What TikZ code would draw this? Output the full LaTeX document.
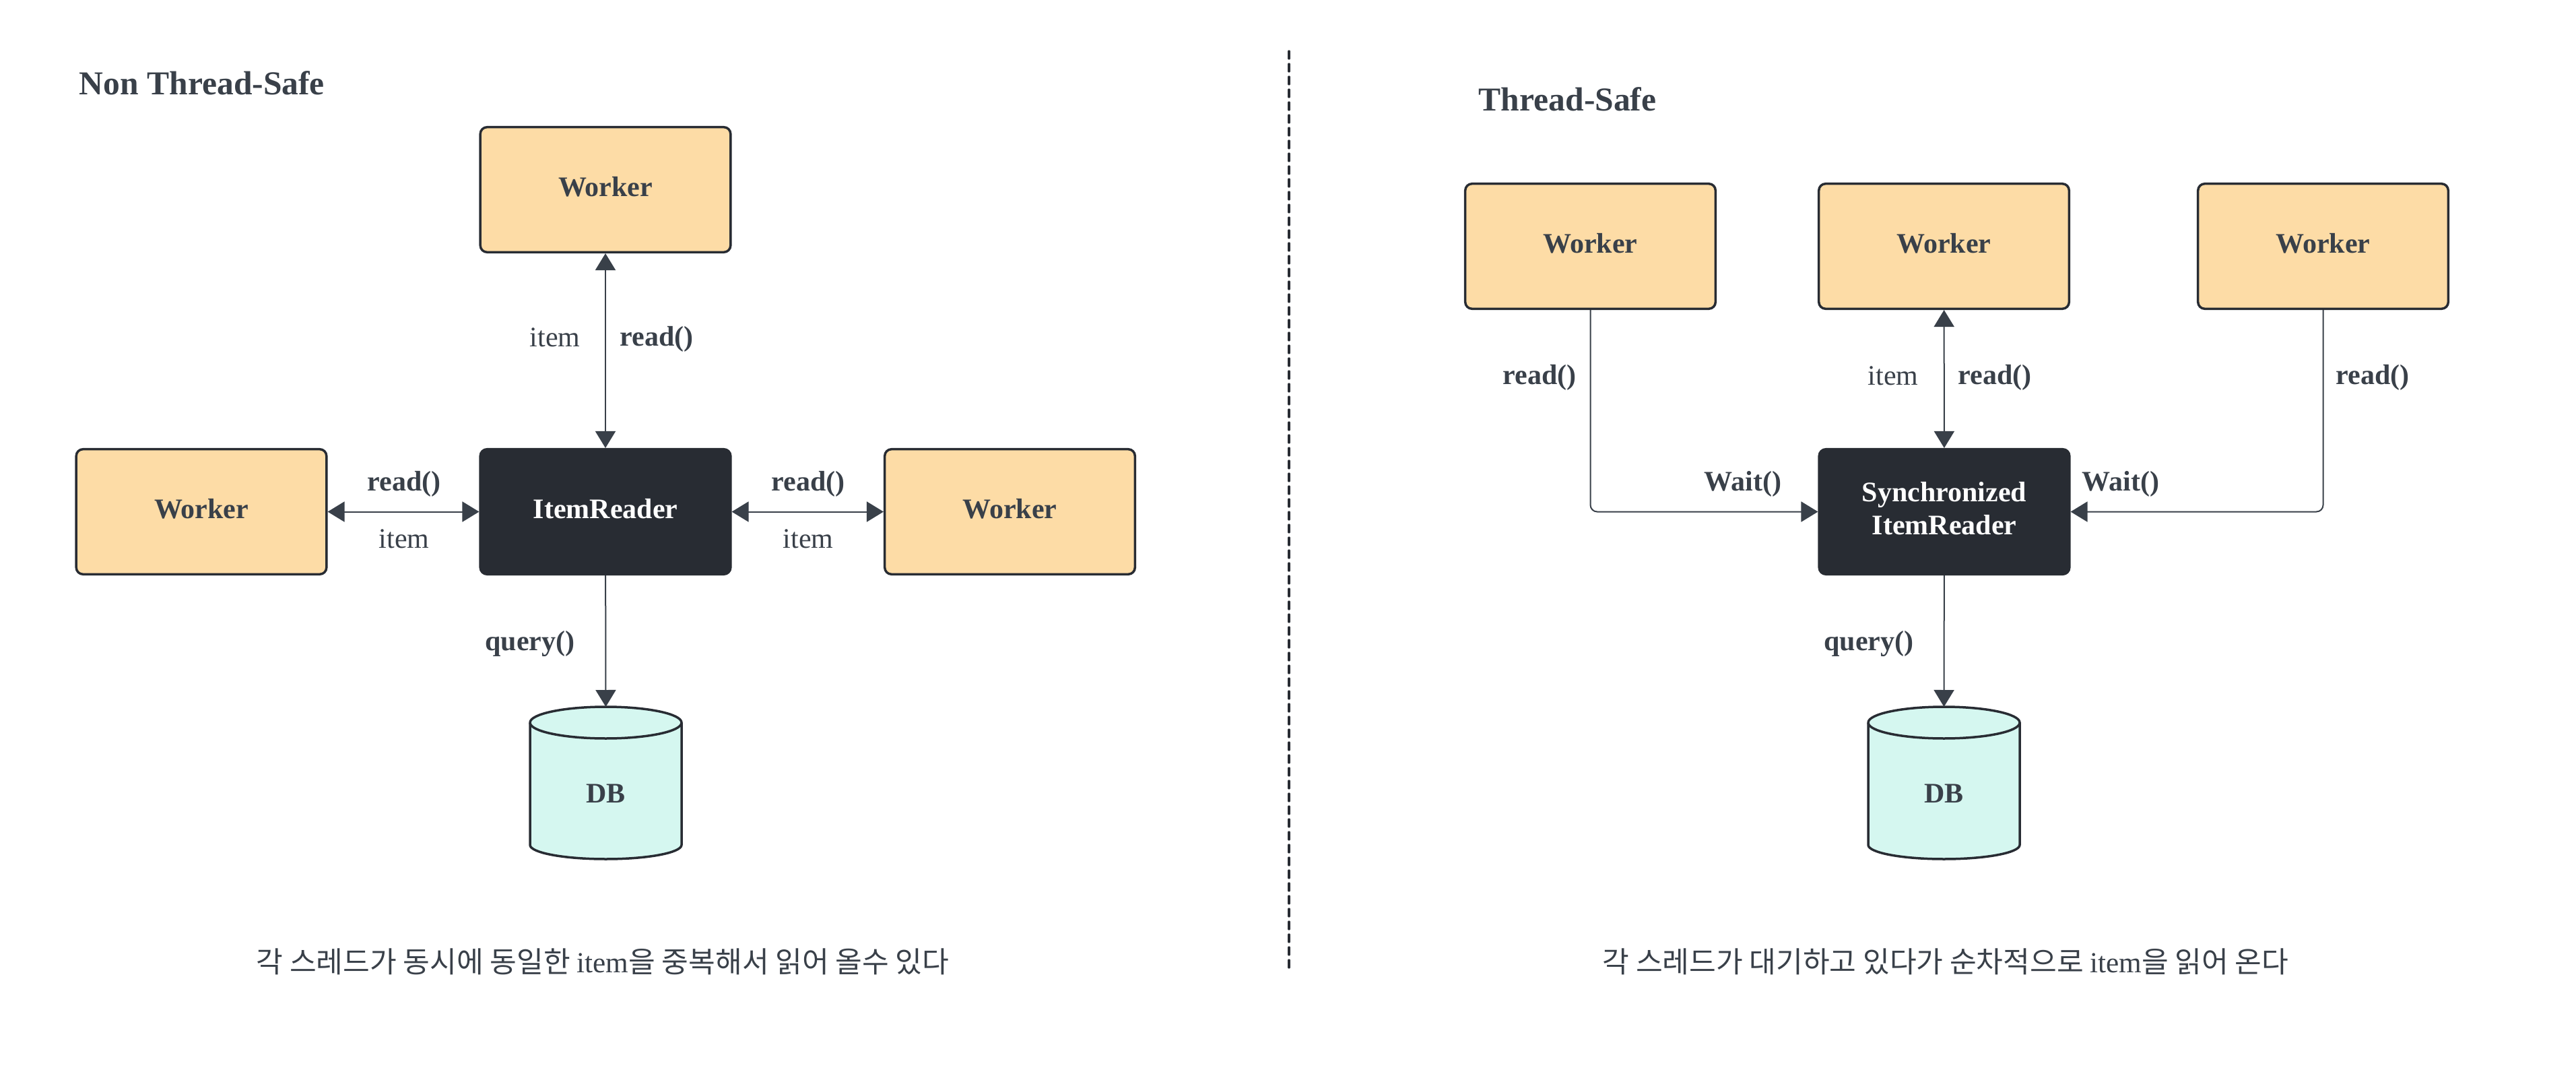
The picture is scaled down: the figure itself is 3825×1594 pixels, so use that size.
\documentclass[tikz,border=0pt]{standalone}
\usepackage{fontspec}
\setmainfont{Liberation Serif}
\newfontfamily\cjk{Noto Sans CJK KR}
\usetikzlibrary{arrows.meta}
\definecolor{ink}{HTML}{394049}
\definecolor{dark}{HTML}{282C33}
\definecolor{peach}{HTML}{FDDCA6}
\definecolor{mint}{HTML}{D5F7F0}
\begin{document}
\begin{tikzpicture}[x=0.25pt,y=-0.25pt,
  >={Triangle[length=6.25pt,width=7.5pt]},
  worker/.style={draw=dark, line width=0.875pt, fill=peach, rounded corners=2.5pt,
    minimum width=92.9pt, minimum height=46.4pt, inner sep=0pt, text depth=2.5pt,
    font=\bfseries\fontsize{10.5}{12.25}\selectfont, text=ink},
  reader/.style={worker, fill=dark, text=white, align=center},
  conn/.style={draw=ink, line width=0.5pt},
  lbl/.style={font=\bfseries\fontsize{10.5}{12.25}\selectfont, text=ink, inner sep=0pt},
  lblr/.style={font=\fontsize{10.5}{12.25}\selectfont, text=ink, inner sep=0pt},
  ttl/.style={font=\bfseries\fontsize{12.4}{14}\selectfont, text=ink, inner sep=0pt, anchor=base west},
  note/.style={font=\fontsize{10.8}{12.5}\selectfont, text=ink, inner sep=0pt},
  divider/.style={draw=dark, line width=0.83pt, line cap=round, dash pattern=on 2.75pt off 2pt},
  dbcyl/.pic={
    \path[fill=mint, draw=dark, line width=0.875pt] (-112.5,23.5) -- (-112.5,205)
      arc[start angle=180, end angle=360, x radius=28.125pt, y radius=5.25pt]
      -- (112.5,23.5)
      arc[start angle=0, end angle=180, x radius=28.125pt, y radius=5.875pt] -- cycle;
    \draw[dark, line width=0.875pt] (-112.5,23.5)
      arc[start angle=180, end angle=360, x radius=28.125pt, y radius=5.875pt];
    \node[lbl] (-label) at (0,129) {DB};
    \coordinate (-top) at (0,0);
  }
]
\useasboundingbox (0,0) rectangle (3825,1594);

% ---------- left: Non Thread-Safe ----------
\node[ttl] (t1) at (117,141) {Non Thread-Safe};
\node[worker] (tw) at (899,281.5) {Worker};
\node[reader] (ir) at (899,759.5) {ItemReader};
\node[worker] (lw) at (299,759.5) {Worker};
\node[worker] (rw) at (1499.5,759.5) {Worker};
\pic (dbL) at (899.5,1049) {dbcyl};

\draw[conn,<->] (tw) -- (ir);
\draw[conn,<->] (lw) -- (ir);
\draw[conn,<->] (ir) -- (rw);
\draw[conn,->] (ir) -- (dbL-top);

\node[lblr] (l1) at (824,501) {item};
\node[lbl] (l2) at (975,503) {read()};
\node[lbl] (l3) at (600,718) {read()};
\node[lblr] (l4) at (600,800) {item};
\node[lbl] (l5) at (1200,718) {read()};
\node[lblr] (l6) at (1200,800) {item};
\node[lbl] (l7) at (787,955) {query()};

\node[note] (n1) at (895,1427) {{\cjk 각 스레드가 동시에 동일한 }item{\cjk 을 중복해서 읽어 올수 있다}};

% ---------- divider ----------
\coordinate (dtop) at (1914,76);
\coordinate (dbot) at (1914,1442);
\draw[divider] (dtop) -- (dbot);

% ---------- right: Thread-Safe ----------
\node[ttl] (t2) at (2195,165) {Thread-Safe};
\node[worker] (w1) at (2361.5,365.5) {Worker};
\node[worker] (w2) at (2886.5,365.5) {Worker};
\node[worker] (w3) at (3449.5,365.5) {Worker};
\node[reader] (sir) at (2887,759.5) {Synchronized\\ItemReader};
\pic (dbR) at (2886.5,1049) {dbcyl};

\draw[conn,->,rounded corners=2.5pt] (w1) |- (sir);
\draw[conn,->,rounded corners=2.5pt] (w3) |- (sir);
\draw[conn,<->] (w2) -- (sir);
\draw[conn,->] (sir) -- (dbR-top);

\node[lbl] (r1) at (2286,560) {read()};
\node[lblr] (r2) at (2811,558) {item};
\node[lbl] (r3) at (2962,560) {read()};
\node[lbl] (r4) at (3523,560) {read()};
\node[lbl] (r5) at (2588,718) {Wait()};
\node[lbl] (r6) at (3149,718) {Wait()};
\node[lbl] (r7) at (2775,955) {query()};

\node[note] (n2) at (2889,1427) {{\cjk 각 스레드가 대기하고 있다가 순차적으로 }item{\cjk 을 읽어 온다}};
\end{tikzpicture}
\end{document}
